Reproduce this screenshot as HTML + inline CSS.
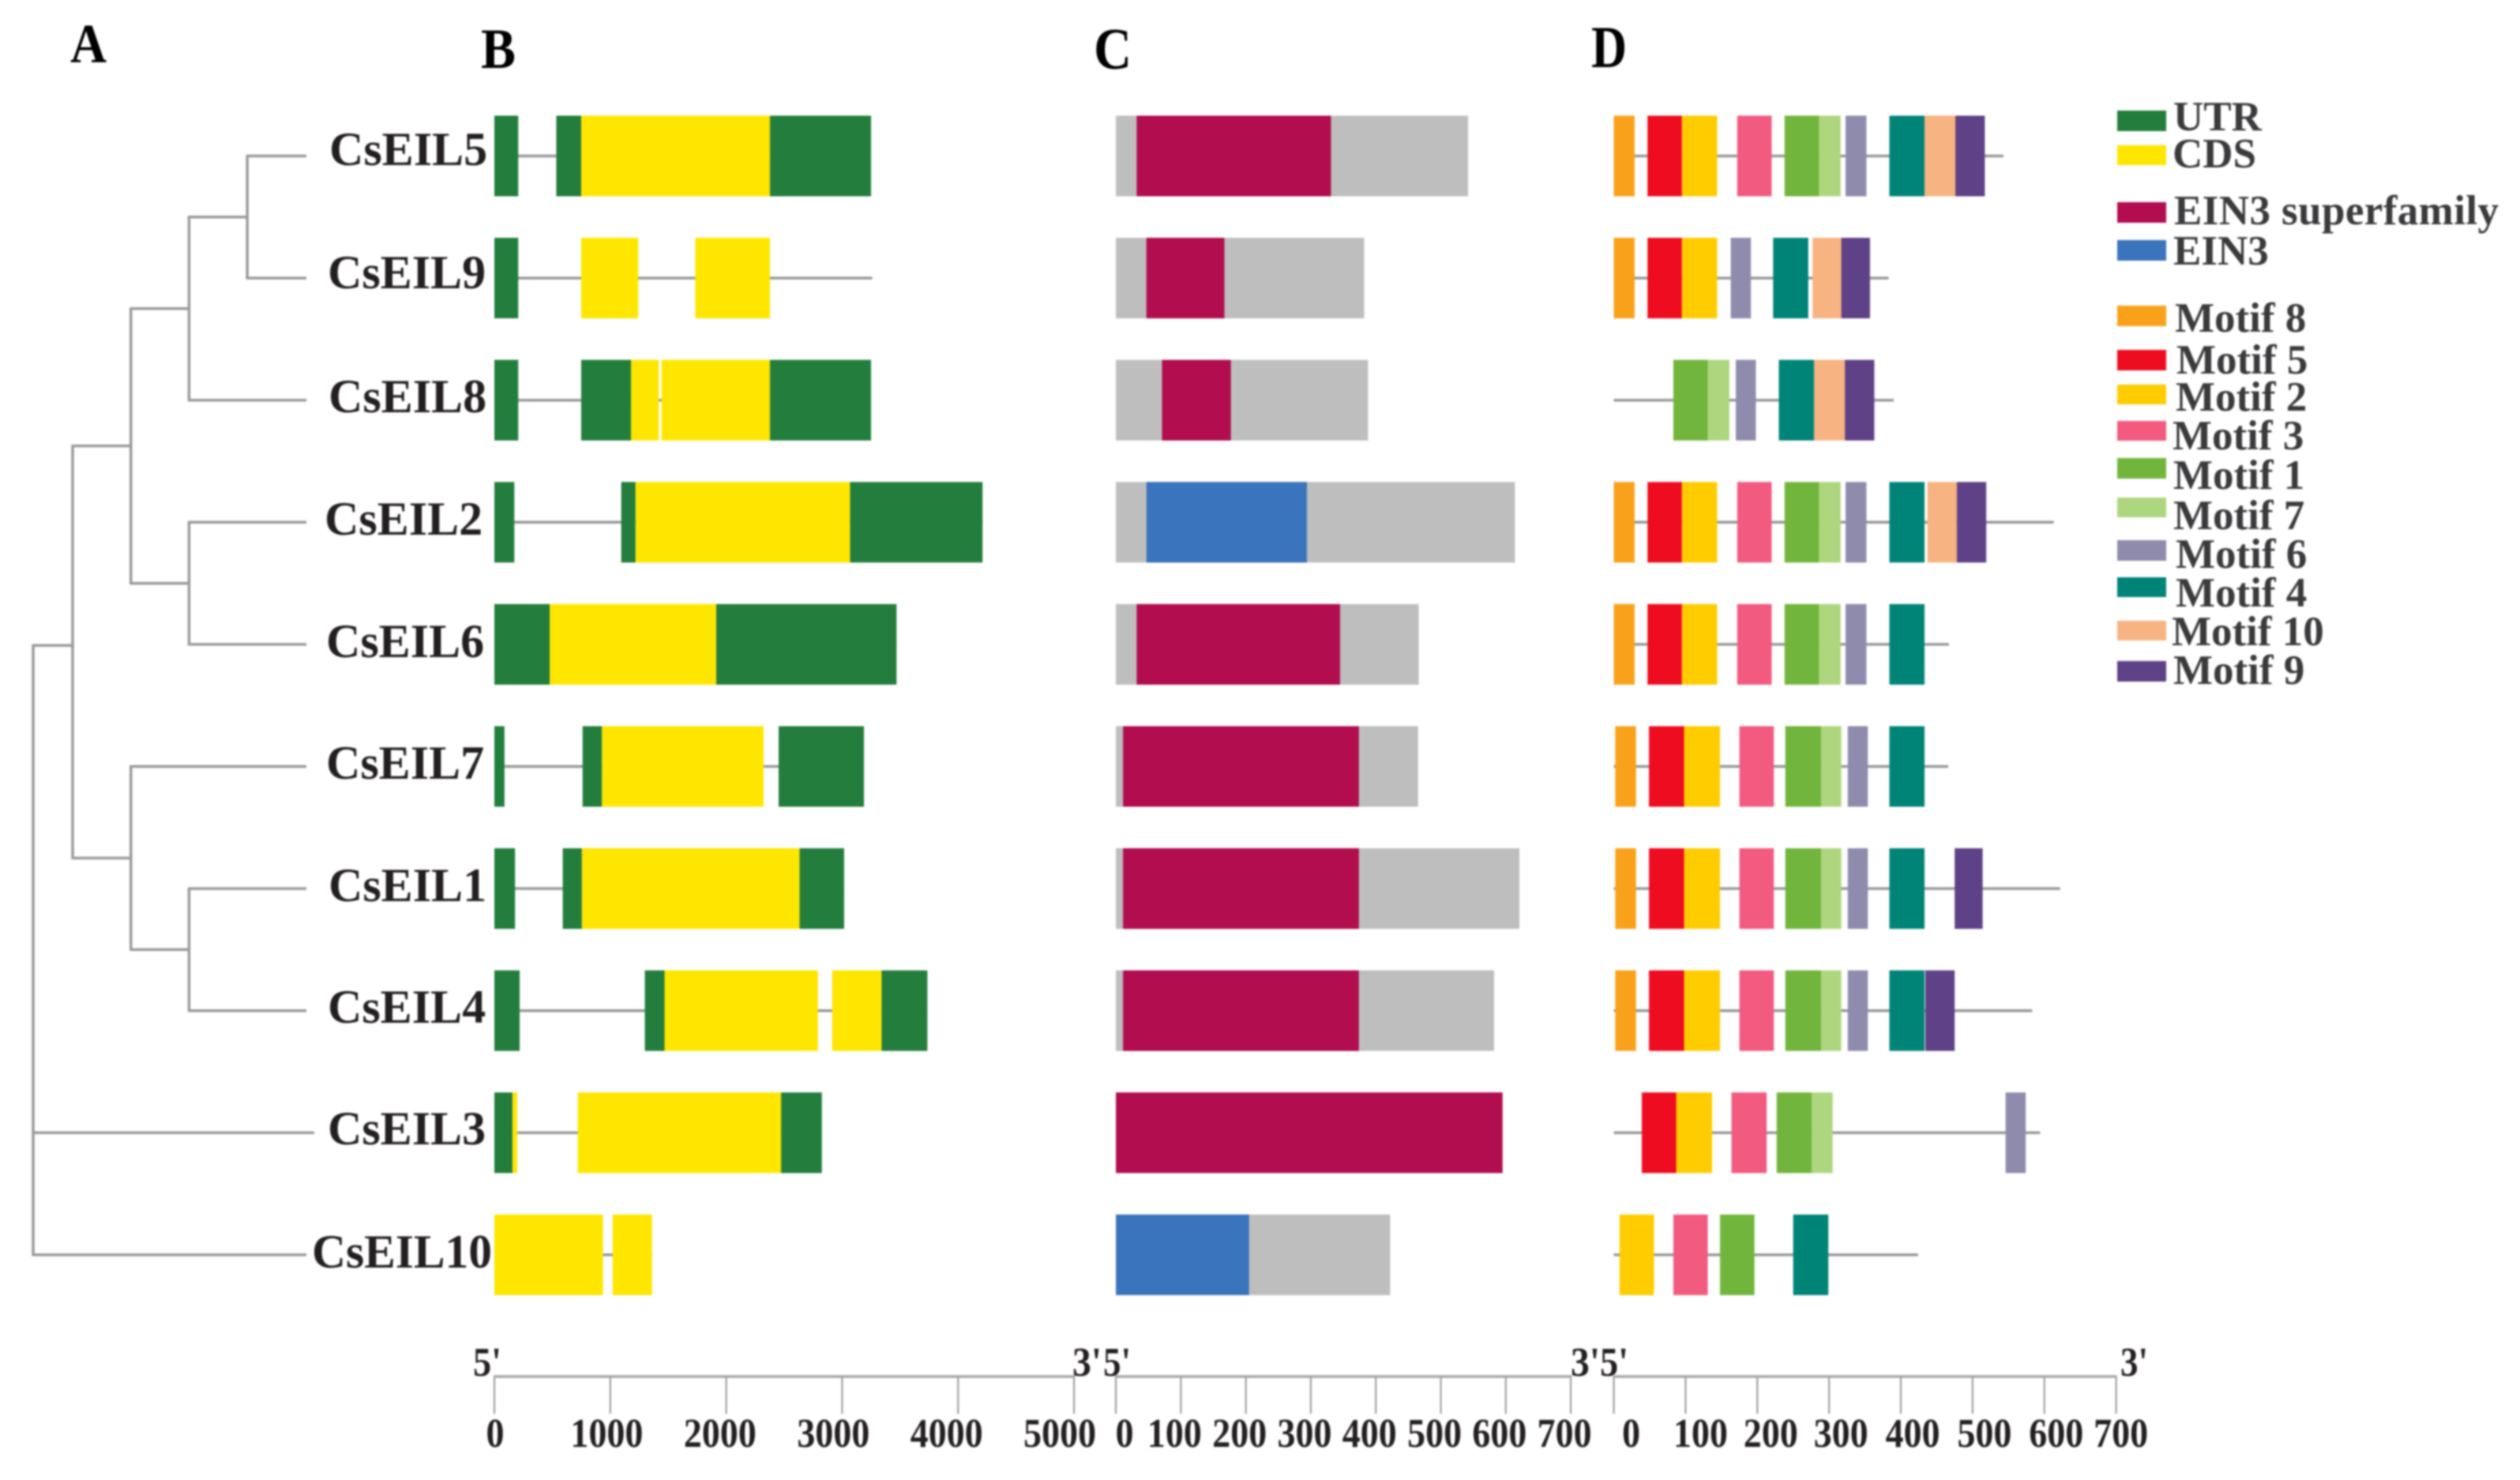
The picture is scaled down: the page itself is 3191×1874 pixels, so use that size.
<!DOCTYPE html>
<html lang="en">
<head>
<meta charset="utf-8">
<title>CsEIL gene family structure</title>
<style>
html,body{margin:0;padding:0;background:#fff;}
#figure{display:block;width:3191px;height:1874px;filter:blur(1px);}
text{font-family:"Liberation Serif",serif;font-weight:700;fill:#231f20;}
.leg text{fill:#3a3a3c;font-size:53px;}
.gene{font-size:60px;}
.panel{fill:#000;}
</style>
</head>
<body>
<svg id="figure" xmlns="http://www.w3.org/2000/svg" width="3191" height="1874" viewBox="0 0 3191 1874">
  <rect x="0" y="0" width="3191" height="1874" fill="#fff"/>

  <g id="tree"></g>
  <g id="genes"></g>
  <g id="proteins"></g>
  <g id="motifs"></g>
  <g id="axes"></g>

  <text class="panel" x="89" y="79" font-size="70" textLength="46" lengthAdjust="spacingAndGlyphs">A</text>
  <text class="panel" x="609" y="86" font-size="72" textLength="44" lengthAdjust="spacingAndGlyphs">B</text>
  <text class="panel" x="1385" y="87" font-size="74" textLength="48" lengthAdjust="spacingAndGlyphs">C</text>
  <text class="panel" x="2015" y="85" font-size="75" textLength="45" lengthAdjust="spacingAndGlyphs">D</text>

  <g>
    <text class="gene" x="417" y="209">CsEIL5</text>
    <text class="gene" x="415" y="365">CsEIL9</text>
    <text class="gene" x="416" y="522">CsEIL8</text>
    <text class="gene" x="411" y="677">CsEIL2</text>
    <text class="gene" x="413" y="832">CsEIL6</text>
    <text class="gene" x="413" y="986">CsEIL7</text>
    <text class="gene" x="416" y="1141">CsEIL1</text>
    <text class="gene" x="415" y="1295">CsEIL4</text>
    <text class="gene" x="415" y="1449">CsEIL3</text>
    <text class="gene" x="395" y="1605" textLength="228" lengthAdjust="spacingAndGlyphs">CsEIL10</text>
  </g>

  <g>
    <text x="599" y="1742" font-size="52" textLength="36" lengthAdjust="spacingAndGlyphs">5'</text>
    <text x="1358" y="1742" font-size="52" textLength="37" lengthAdjust="spacingAndGlyphs">3'</text>
    <text x="1397" y="1742" font-size="52" textLength="35" lengthAdjust="spacingAndGlyphs">5'</text>
    <text x="1989" y="1742" font-size="52" textLength="37" lengthAdjust="spacingAndGlyphs">3'</text>
    <text x="2026" y="1742" font-size="52" textLength="36" lengthAdjust="spacingAndGlyphs">5'</text>
    <text x="2685" y="1742" font-size="52" textLength="35" lengthAdjust="spacingAndGlyphs">3'</text>
  </g>

  <g class="leg">
    <g><rect x="2681" y="140" width="62" height="26" fill="#237d3d"/><text x="2752" y="165">UTR</text></g>
    <g><rect x="2681" y="184" width="62" height="25" fill="#ffe600"/><text x="2751" y="212">CDS</text></g>
    <g><rect x="2681" y="256" width="62" height="26" fill="#b10d4f"/><text x="2753" y="284" textLength="411" lengthAdjust="spacing">EIN3 superfamily</text></g>
    <g><rect x="2681" y="304" width="62" height="26" fill="#3a74bc"/><text x="2752" y="335">EIN3</text></g>
    <g><rect x="2681" y="387" width="62" height="26" fill="#f9a11b"/><text x="2754" y="420">Motif 8</text></g>
    <g><rect x="2681" y="443" width="62" height="26" fill="#ee0c20"/><text x="2756" y="473">Motif 5</text></g>
    <g><rect x="2681" y="487" width="62" height="25" fill="#ffcc00"/><text x="2755" y="520">Motif 2</text></g>
    <g><rect x="2681" y="533" width="62" height="25" fill="#f25a7f"/><text x="2751" y="569">Motif 3</text></g>
    <g><rect x="2681" y="580" width="62" height="26" fill="#72b53c"/><text x="2752" y="619">Motif 1</text></g>
    <g><rect x="2681" y="630" width="62" height="25" fill="#aed67e"/><text x="2752" y="670">Motif 7</text></g>
    <g><rect x="2681" y="684" width="62" height="26" fill="#8f8bad"/><text x="2755" y="719">Motif 6</text></g>
    <g><rect x="2681" y="731" width="62" height="25" fill="#008477"/><text x="2755" y="768">Motif 4</text></g>
    <g><rect x="2681" y="786" width="62" height="25" fill="#f7b382"/><text x="2750" y="817">Motif 10</text></g>
    <g><rect x="2681" y="837" width="62" height="26" fill="#5f4187"/><text x="2752" y="866">Motif 9</text></g>
  </g>
</svg>

<script>
// ---- data ----
const geneNames = ['CsEIL5','CsEIL9','CsEIL8','CsEIL2','CsEIL6','CsEIL7','CsEIL1','CsEIL4','CsEIL3','CsEIL10'];

// Tree topology: nested clades of gene names.
const treeClades = [
  [[[['CsEIL5','CsEIL9'],'CsEIL8'],['CsEIL2','CsEIL6']],
   ['CsEIL7',['CsEIL1','CsEIL4']]],
  'CsEIL3',
  'CsEIL10'
];

// Panel B: gene length (bp) and [feature, start, end] segments.
const geneLengths = [3249,3260,3249,4211,3469,3188,3017,3735,2825,1360];
const geneSegments = [
  [['UTR',0,206],['UTR',534,749],['CDS',749,2377],['UTR',2377,3249]],
  [['UTR',0,206],['CDS',749,1241],['CDS',1733,2377]],
  [['UTR',0,206],['UTR',749,1179],['CDS',1179,1418],['CDS',1442,2377],['UTR',2377,3249]],
  [['UTR',0,172],['UTR',1094,1218],['CDS',1218,3068],['UTR',3068,4211]],
  [['UTR',0,478],['CDS',478,1914],['UTR',1914,3469]],
  [['UTR',0,87],['UTR',761,928],['CDS',928,2322],['UTR',2452,3188]],
  [['UTR',0,178],['UTR',590,755],['CDS',755,2633],['UTR',2633,3017]],
  [['UTR',0,218],['UTR',1298,1468],['CDS',1468,2791],['CDS',2914,3340],['UTR',3340,3735]],
  [['UTR',0,156],['CDS',156,197],['CDS',720,2473],['UTR',2473,2825]],
  [['CDS',0,937],['CDS',1020,1360]]
];

// Panel C: protein length (aa) and conserved domain.
const proteinLengths = [542,382,388,614,466,465,621,582,595,422];
const domainTypes = ['EIN3 superfamily','EIN3 superfamily','EIN3 superfamily','EIN3','EIN3 superfamily','EIN3 superfamily','EIN3 superfamily','EIN3 superfamily','EIN3 superfamily','EIN3'];
const domainStarts = [32,47,71,47,32,11,11,11,0,0];
const domainEnds = [331,167,177,294,345,374,374,374,595,205];

// Panel D: motif hits as [motif id, start, end] in aa.
const motifHits = [
  [[8,0,29],[5,47,95],[2,95,144],[3,172,220],[1,238,286],[7,286,316],[6,323,352],[4,384,433],[10,433,476],[9,476,517]],
  [[8,0,29],[5,47,95],[2,95,144],[6,163,191],[4,222,271],[10,277,317],[9,317,357]],
  [[1,83,131],[7,131,161],[6,170,198],[4,230,279],[10,279,322],[9,322,363]],
  [[8,0,29],[5,47,95],[2,95,144],[3,172,220],[1,238,286],[7,286,316],[6,323,352],[4,384,433],[10,437,478],[9,478,519]],
  [[8,0,29],[5,47,95],[2,95,144],[3,172,220],[1,238,286],[7,286,316],[6,323,352],[4,384,433]],
  [[8,2,31],[5,49,98],[2,98,148],[3,175,223],[1,239,289],[7,289,317],[6,326,354],[4,384,433]],
  [[8,2,31],[5,49,98],[2,98,148],[3,175,223],[1,239,289],[7,289,317],[6,326,354],[4,384,433],[9,475,514]],
  [[8,2,31],[5,49,98],[2,98,148],[3,175,223],[1,239,289],[7,289,317],[6,326,354],[4,384,433],[9,434,475]],
  [[5,39,87],[2,87,137],[3,164,213],[1,227,276],[7,276,305],[6,546,574]],
  [[2,8,56],[3,83,131],[1,148,196],[4,250,299]]
];
const motifLengths = [543,383,390,613,467,466,622,583,594,424];

// Axis tick labels.
const geneTicks = [0,1000,2000,3000,4000,5000];
const proteinTicks = [0,100,200,300,400,500,600,700];
const motifTicks = [0,100,200,300,400,500,600,700];

// ---- styles ----
const featureColors = {'UTR':'#237d3d','CDS':'#ffe600','EIN3 superfamily':'#b10d4f','EIN3':'#3a74bc'};
const motifColors = {8:'#f9a11b',5:'#ee0c20',2:'#ffcc00',3:'#f25a7f',1:'#72b53c',7:'#aed67e',6:'#8f8bad',4:'#008477',10:'#f7b382',9:'#5f4187'};

// ---- scales ----
const geneX = v => 626 + v * 0.1468;
const proteinX = v => 1413 + v * 0.8229;
const motifX = v => 2043.5 + v * 0.9087;
const rowY = i => 197.5 + i * 154.6;
const treeX = d => d === 0 ? 42 : 92 + (d - 1) * 73.7;
const BAR_H = 102;

const NS = 'http://www.w3.org/2000/svg';
function make(tag, attrs, parent) {
  const n = document.createElementNS(NS, tag);
  for (const k in attrs) n.setAttribute(k, attrs[k]);
  parent.appendChild(n);
  return n;
}
function bar(parent, x0, x1, i, fill) {
  return make('rect', {x: x0, y: rowY(i) - BAR_H / 2, width: x1 - x0, height: BAR_H, fill: fill}, parent);
}
function stem(parent, x0, y0, x1, y1, color, w) {
  return make('line', {x1: x0, y1: y0, x2: x1, y2: y1, stroke: color, 'stroke-width': w}, parent);
}
const slug = s => s.toLowerCase().replace(/\s+/g, '-');

// ---- Panel A: tree ----
const treeGroup = document.getElementById('tree');
const LEAF_END = 388;
function drawClade(node, depth) {
  if (typeof node === 'string') {
    return {y: rowY(geneNames.indexOf(node)), leaf: node};
  }
  const kids = node.map(k => drawClade(k, depth + 1));
  const x = treeX(depth);
  const ys = kids.map(k => k.y);
  kids.forEach(k => {
    const endX = k.leaf ? (k.leaf === 'CsEIL3' ? 398 : LEAF_END) : treeX(depth + 1);
    const h = stem(treeGroup, x, k.y, endX, k.y, '#9a9a9a', 3.5);
    
    
  });
  const top = Math.min(...ys), bottom = Math.max(...ys);
  const v = stem(treeGroup, x, top - 1.5, x, bottom + 1.5, '#9a9a9a', 3.5);
  
  
  return {y: top + (bottom - top) * (depth === 1 ? 0.484 : 0.5)};
}
drawClade(treeClades, 0);

// ---- Panel B: gene structures ----
const genesGroup = document.getElementById('genes');
geneNames.forEach((name, i) => {
  const line = stem(genesGroup, geneX(0), rowY(i), geneX(geneLengths[i]), rowY(i), '#999', 3.5);
  
  
  geneSegments[i].forEach(seg => {
    const r = bar(genesGroup, geneX(seg[1]), geneX(seg[2]), i, featureColors[seg[0]]);
    
    
  });
});

// ---- Panel C: protein domains ----
const proteinsGroup = document.getElementById('proteins');
geneNames.forEach((name, i) => {
  const base = bar(proteinsGroup, proteinX(0), proteinX(proteinLengths[i]), i, '#bebebe');
  
  
  const d = bar(proteinsGroup, proteinX(domainStarts[i]), proteinX(domainEnds[i]), i, featureColors[domainTypes[i]]);
  
  
});

// ---- Panel D: motifs ----
const motifsGroup = document.getElementById('motifs');
geneNames.forEach((name, i) => {
  const line = stem(motifsGroup, motifX(0), rowY(i), motifX(motifLengths[i]), rowY(i), '#999', 3.5);
  
  
  motifHits[i].forEach(hit => {
    const r = bar(motifsGroup, motifX(hit[1]), motifX(hit[2]), i, motifColors[hit[0]]);
    
    
  });
});

// ---- Axes ----
const axesGroup = document.getElementById('axes');
const AXIS_Y = 1743, TICK_END = 1790, LABEL_Y = 1832, DIGIT_W = 23;
function drawAxis(prefix, ticks, scale, labelShift) {
  const first = ticks[0], last = ticks[ticks.length - 1];
  const axisLine = stem(axesGroup, scale(first) - 1, AXIS_Y, scale(last) + 1, AXIS_Y, '#a8a8a8', 3.5);
  
  
  ticks.forEach(t => {
    const tick = stem(axesGroup, scale(t), AXIS_Y, scale(t), TICK_END, '#a0a0a0', 2.2);
    
    
    const label = make('text', {
      x: scale(t) + labelShift(t), y: LABEL_Y, 'font-size': 52, 'text-anchor': 'middle',
      textLength: String(t).length * DIGIT_W, lengthAdjust: 'spacingAndGlyphs'
    }, axesGroup);
    
    
    label.textContent = String(t);
  });
}
drawAxis('gene', geneTicks, geneX, t => t === 0 ? 1 : -0.0034 * t - 1);
drawAxis('protein', proteinTicks, proteinX, t => t === 0 ? 11 : -8);
drawAxis('motif', motifTicks, motifX, t => t === 700 ? 6 : (t === 0 ? 22 : Math.max(15, 21 - t * 0.02)));
</script>
</body>
</html>
